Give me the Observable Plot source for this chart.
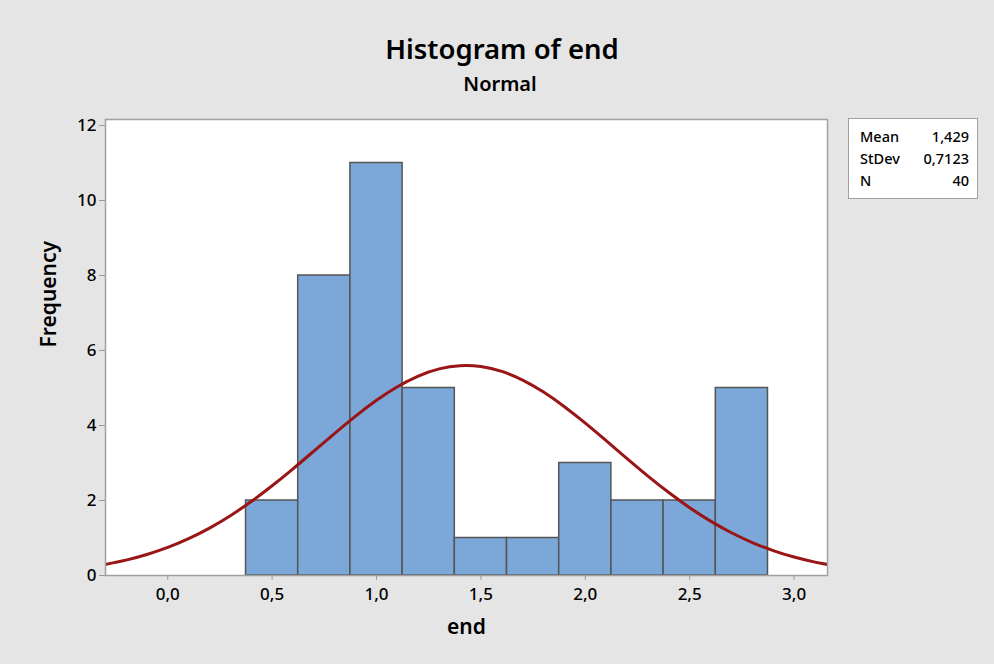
<!DOCTYPE html>
<html>
<head>
<meta charset="utf-8">
<script src="https://cdn.jsdelivr.net/npm/d3@7"></script>
<script src="https://cdn.jsdelivr.net/npm/@observablehq/plot@0.6"></script>
<style>
  html, body { margin: 0; padding: 0; background: #e5e5e5; }
  #wrap { position: relative; width: 994px; height: 664px; background: #e5e5e5; font-family: "Noto Sans", "Open Sans", sans-serif; overflow: hidden; }
  #title { position: absolute; left: 0; width: 1004px; top: 30px; text-align: center; font-size: 27.5px; font-weight: 600; color: #000; }
  #subtitle { position: absolute; left: 0; width: 1000px; top: 70px; text-align: center; font-size: 20px; font-weight: 600; color: #000; }
  #stats { position: absolute; left: 848px; top: 118px; width: 130px; height: 81px; background: #fff; border: 1px solid #a0a0a0; box-sizing: border-box; font-size: 14.5px; font-weight: 500; color: #000; padding: 6px 8px 0 11px; line-height: 22px; }
  #stats .row { display: flex; justify-content: space-between; }
  #chart { position: absolute; left: 0; top: 0; }
</style>
</head>
<body>
<div id="wrap">
  <div id="chart"></div>
  <div id="title">Histogram of end</div>
  <div id="subtitle">Normal</div>
  <div id="stats"></div>
</div>
<script>
// Histogram bins (left edges) and frequencies
const binStarts = [0.375, 0.625, 0.875, 1.125, 1.375, 1.625, 1.875, 2.125, 2.375, 2.625];
const binWidth = 0.25;
const counts = [2, 8, 11, 5, 1, 1, 3, 2, 2, 5];

// Fitted normal curve
const curveX = [-0.3, -0.2, -0.1, 0.0, 0.1, 0.2, 0.3, 0.4, 0.5, 0.6, 0.7, 0.8, 0.9, 1.0, 1.1, 1.2, 1.3, 1.4, 1.5, 1.6, 1.7, 1.8, 1.9, 2.0, 2.1, 2.2, 2.3, 2.4, 2.5, 2.6, 2.7, 2.8, 2.9, 3.0, 3.1, 3.16];
const curveY = [0.295, 0.41, 0.56, 0.749, 0.982, 1.264, 1.595, 1.973, 2.393, 2.845, 3.318, 3.792, 4.251, 4.672, 5.034, 5.319, 5.51, 5.596, 5.573, 5.442, 5.21, 4.891, 4.501, 4.062, 3.594, 3.118, 2.652, 2.212, 1.809, 1.45, 1.14, 0.879, 0.664, 0.492, 0.357, 0.295];

// Tick labels
const xTicks = [0, 0.5, 1, 1.5, 2, 2.5, 3];
const yTicks = [0, 2, 4, 6, 8, 10, 12];

// Summary statistics
const statLabels = ["Mean", "StDev", "N"];
const statValues = ["1,429", "0,7123", "40"];

const bars = binStarts.map((s, i) => ({x1: s, x2: s + binWidth, y: counts[i]}));
const curve = curveX.map((x, i) => ({x, y: curveY[i]}));
const fmt = d => d.toFixed(1).replace(".", ",");

const chart = Plot.plot({
  width: 994,
  height: 664,
  marginLeft: 105,
  marginRight: 167,
  marginTop: 119,
  marginBottom: 89,
  style: { background: "transparent", fontFamily: "'Noto Sans', 'Open Sans', sans-serif", fontSize: "16px", color: "#000" },
  x: { domain: [-0.298, 3.16], ticks: xTicks, tickFormat: fmt, label: null, tickSize: 5, tickPadding: 6 },
  y: { domain: [0, 12.16], ticks: yTicks, label: null, tickSize: 6, tickPadding: 3 },
  marks: [
    Plot.rect([0], { x1: -0.298, x2: 3.16, y1: 0, y2: 12.16, fill: "#ffffff" }),
    Plot.rectY(bars, { x1: "x1", x2: "x2", y: "y", fill: "#7ba7d9", stroke: "#555555", strokeWidth: 1.5, inset: 0 }),
    Plot.line(curve, { x: "x", y: "y", stroke: "#9a1515", strokeWidth: 3, curve: "natural", clip: true }),
    Plot.frame({ stroke: "#a0a0a0", strokeWidth: 1.5 }),
    Plot.axisX({ ticks: xTicks, tickFormat: fmt, stroke: "#9a9a9a", tickSize: 5, tickPadding: 7, fontSize: 17, fontWeight: 500, label: null }),
    Plot.axisY({ ticks: yTicks, stroke: "#9a9a9a", tickSize: 6, tickPadding: 3, fontSize: 17, fontWeight: 500, label: null }),
    Plot.text(["end"], { frameAnchor: "bottom", dy: 58, fontSize: 21, fontWeight: 600, fill: "#000" }),
    Plot.text(["Frequency"], { frameAnchor: "left", dx: -56, rotate: -90, fontSize: 21, fontWeight: 600, fill: "#000" })
  ]
});
document.getElementById("chart").appendChild(chart);

const stats = document.getElementById("stats");
statLabels.forEach((l, i) => {
  const row = document.createElement("div");
  row.className = "row";
  const a = document.createElement("span"); a.textContent = l;
  const b = document.createElement("span"); b.textContent = statValues[i];
  row.appendChild(a); row.appendChild(b);
  stats.appendChild(row);
});
</script>
</body>
</html>
